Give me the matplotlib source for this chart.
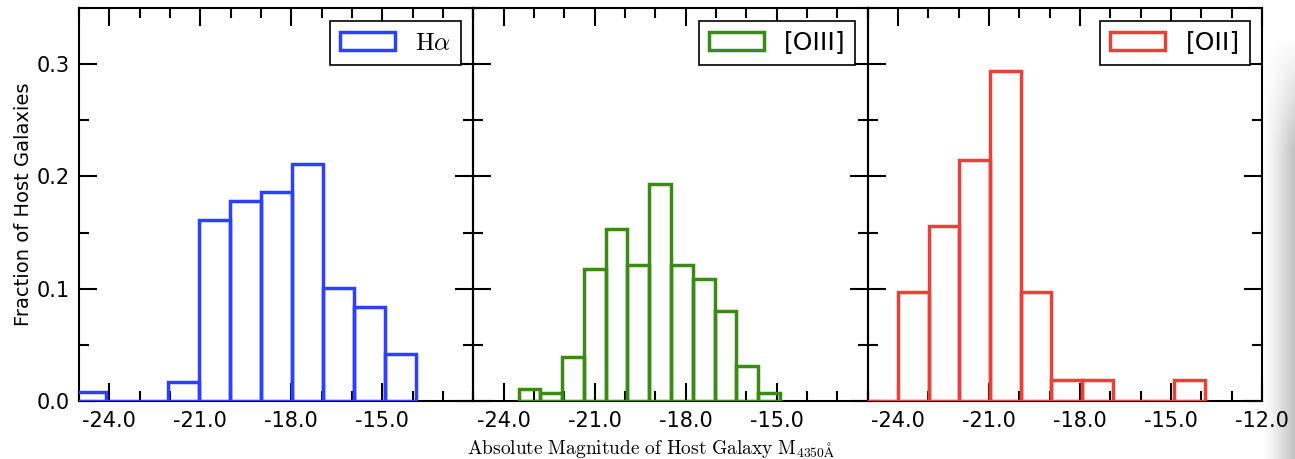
import numpy as np
import matplotlib
matplotlib.use("Agg")
import matplotlib.pyplot as plt
from matplotlib.ticker import MultipleLocator, FormatStrFormatter

plt.rcParams['mathtext.fontset'] = 'cm'

# histogram data (fraction per bin)
ha_start, ha_width = -25.13, 1.023
ha_frac = [0.008, 0.0, 0.0, 0.017, 0.161, 0.178, 0.186, 0.211, 0.101, 0.084, 0.042]

oiii_start, oiii_width = -23.51, 0.718
oiii_frac = [0.011, 0.007, 0.039, 0.118, 0.153, 0.121, 0.193, 0.121, 0.109, 0.080, 0.031, 0.007]

oii_start, oii_width = -25.012, 1.012
oii_frac = [0.0, 0.097, 0.156, 0.215, 0.294, 0.097, 0.019, 0.019, 0.0, 0.0, 0.019]

labels = [r'$\mathrm{H}\alpha$', '[OIII]', '[OII]']
colors = ['#2f3fff', '#3b8a18', '#e8403a']

series = [(ha_start, ha_width, ha_frac),
          (oiii_start, oiii_width, oiii_frac),
          (oii_start, oii_width, oii_frac)]

fig = plt.figure(figsize=(12.95, 4.59), dpi=100)

# faint page shadow along the right edge (drawn behind everything)
sh = fig.add_axes([1262 / 1295, 0, 33 / 1295, 1])
sh.set_zorder(-5)
gx = np.linspace(0, 1, 64)[None, :]
gy = np.clip((np.linspace(0, 1, 200)[:, None] - 0.08) / 0.25, 0, 1)
img = 1 - 0.25 * gx ** 1.3 * gy
sh.imshow(img, cmap='gray', vmin=0, vmax=1, aspect='auto')
sh.axis('off')

left, right = 79 / 1295, 1262 / 1295
bottom, top = 1 - 401 / 459, 1 - 8 / 459
w = (right - left) / 3

axes = []
for i, ((start, width, frac), lab, col) in enumerate(zip(series, labels, colors)):
    ax = fig.add_axes([left + i * w, bottom, w, top - bottom])
    ax.patch.set_alpha(0)
    axes.append(ax)
    frac = np.array(frac)
    lefts = start + width * np.arange(len(frac))
    ax.bar(lefts, frac, width=width, align='edge', fill=False,
           edgecolor=col, linewidth=2.5, label=lab, zorder=3)

    ax.set_xlim(-25, -12)
    ax.set_ylim(0, 0.35)
    ax.xaxis.set_major_locator(MultipleLocator(3))
    ax.xaxis.set_minor_locator(MultipleLocator(1))
    ax.yaxis.set_major_locator(MultipleLocator(0.1))
    ax.yaxis.set_minor_locator(MultipleLocator(0.05))
    ax.xaxis.set_major_formatter(FormatStrFormatter('%.1f'))
    ax.yaxis.set_major_formatter(FormatStrFormatter('%.1f'))
    ax.tick_params(which='both', direction='in', top=True, right=True,
                   width=1.5, labelsize=15, pad=7)
    ax.tick_params(which='major', length=13)
    ax.tick_params(which='minor', length=7)
    for s in ax.spines.values():
        s.set_linewidth(1.5)

    if i > 0:
        ax.tick_params(labelleft=False)
    if i < 2:
        # drop the -12.0 label so it doesn't clash with the next panel
        ax.set_xticks([-24, -21, -18, -15])
        ax.xaxis.set_minor_locator(MultipleLocator(1))

    leg = ax.legend(loc='upper right', fontsize=18, handlelength=2.2,
                    fancybox=False, edgecolor='black', framealpha=1)
    leg.get_frame().set_linewidth(1.2)
    leg.set_zorder(5)

axes[0].set_ylabel('Fraction of Host Galaxies', fontsize=14, labelpad=2)
axes[1].set_xlabel(r'$\mathrm{Absolute\ Magnitude\ of\ Host\ Galaxy\ M}_{4350\mathrm{\AA}}$',
                   fontsize=14)
axes[1].xaxis.set_label_coords(0.45, -0.093)

fig.savefig('out.png', dpi=100)
